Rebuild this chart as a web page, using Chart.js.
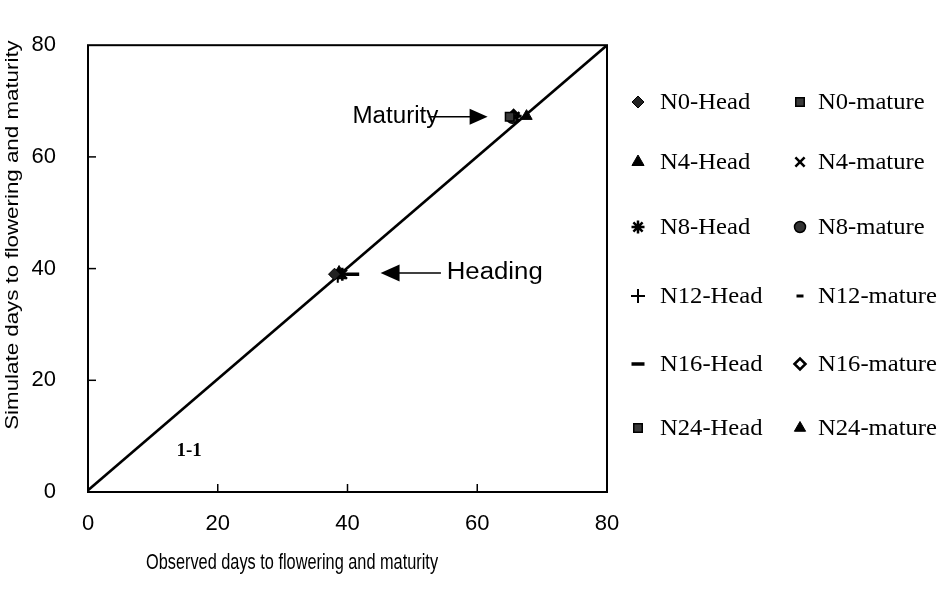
<!DOCTYPE html>
<html><head><meta charset="utf-8">
<script src="https://cdn.jsdelivr.net/npm/chart.js@4.4.0/dist/chart.umd.min.js"></script>
<style>html,body{margin:0;padding:0;background:#fff}</style>
</head><body>
<canvas id="c" width="949" height="611"></canvas>
<script>
// ---- data ----
const seriesLabels = ['N0-Head','N0-mature','N4-Head','N4-mature','N8-Head','N8-mature','N12-Head','N12-mature','N16-Head','N16-mature','N24-Head','N24-mature'];
const observedDays = [38.0, 65.0, 38.7, 65.8, 39.2, 65.4, 38.5, 66.3, 40.8, 65.6, 38.9, 67.6];
const simulatedDays = [39.0, 67.2, 39.3, 67.2, 39.0, 67.0, 38.7, 67.3, 39.0, 67.4, 39.0, 67.3];
const oneToOneX = [0, 80];
const oneToOneY = [0.3, 80];
const axisTicks = [0, 20, 40, 60, 80];
const xTitle = 'Observed days to flowering and maturity';
const yTitle = 'Simulate days to flowering and maturity';
const lineLabel = '1-1';
const maturityText = 'Maturity';
const headingText = 'Heading';

// ---- styles (separate from data) ----
const markerStyles = [
  {ps:'rectRot', r:6, fill:'#222', bw:1},
  {ps:'rect', r:6, fill:'#3a3a3a', bw:1.5},
  {ps:'triangle', r:7, fill:'#000', bw:1},
  {ps:'crossRot', r:6.5, fill:'#000', bw:2.5},
  {ps:'star', r:6.5, fill:'#000', bw:2.5},
  {ps:'circle', r:5.5, fill:'#333', bw:1.5},
  {ps:'cross', r:7, fill:'#000', bw:2},
  {ps:'line', r:3.5, fill:'#000', bw:3},
  {ps:'line', r:6.5, fill:'#000', bw:3.5},
  {ps:'rectRot', r:5.5, fill:'#fff', bw:2.5},
  {ps:'rect', r:6, fill:'#3a3a3a', bw:1.5},
  {ps:'triangle', r:6.5, fill:'#000', bw:1}
];
// annotation anchors in data units
const annot = {
  maturity: {textRight: 54.0, y: 67.2, lineFrom: 52.5, tip: 61.6},
  heading: {tip: 45.1, lineTo: 54.4, textLeft: 55.3, y: 39.2},
  oneToOne: {x: 15.6, y: 7.3}
};

const datasets = [{
  type:'line', label:'1:1',
  data: oneToOneX.map((x,i)=>({x, y:oneToOneY[i]})),
  borderColor:'#000', borderWidth:2.6, pointRadius:0, showLine:true, fill:false, order:2
}];
seriesLabels.forEach((lab,i)=>{
  const s = markerStyles[i];
  datasets.push({
    label: lab,
    data: [{x: observedDays[i], y: simulatedDays[i]}],
    pointStyle: s.ps, pointRadius: s.r, pointBorderWidth: s.bw,
    pointBackgroundColor: s.fill, pointBorderColor:'#000',
    backgroundColor: s.fill, borderColor:'#000', showLine:false, order:1,
    isSeries:true
  });
});

const SANS = '"Liberation Sans", Arial, sans-serif';
const SERIF = '"Liberation Serif", "Times New Roman", serif';

const decor = {
  id:'decor',
  afterDraw(chart){
    const ctx = chart.ctx, a = chart.chartArea, xs = chart.scales.x, ys = chart.scales.y;
    ctx.save();
    // plot box
    ctx.strokeStyle = '#000'; ctx.lineWidth = 2;
    ctx.strokeRect(a.left, a.top, a.right - a.left, a.bottom - a.top);
    // inward ticks
    ctx.lineWidth = 1.5;
    axisTicks.slice(1, -1).forEach(v=>{
      const px = xs.getPixelForValue(v);
      ctx.beginPath(); ctx.moveTo(px, a.bottom); ctx.lineTo(px, a.bottom - 8); ctx.stroke();
      const py = ys.getPixelForValue(v);
      ctx.beginPath(); ctx.moveTo(a.left, py); ctx.lineTo(a.left + 8, py); ctx.stroke();
    });
    // axis titles
    ctx.fillStyle = '#000';
    ctx.textAlign = 'center'; ctx.textBaseline = 'middle';
    ctx.font = '17px ' + SANS;
    ctx.save(); ctx.translate(292, 563); ctx.scale(0.96, 1.25); ctx.fillText(xTitle, 0, 0); ctx.restore();
    ctx.font = '18px ' + SANS;
    ctx.save(); ctx.translate(13, 235); ctx.rotate(-Math.PI/2); ctx.scale(1.24, 1.05); ctx.fillText(yTitle, 0, 0); ctx.restore();
    // 1-1 label
    ctx.font = 'bold 19px ' + SERIF;
    ctx.fillText(lineLabel, xs.getPixelForValue(annot.oneToOne.x), ys.getPixelForValue(annot.oneToOne.y));
    // maturity annotation
    ctx.font = '23px ' + SANS;
    const m = annot.maturity, my = ys.getPixelForValue(m.y);
    ctx.textAlign = 'right';
    ctx.save(); ctx.translate(xs.getPixelForValue(m.textRight), my); ctx.scale(1.05, 1); ctx.fillText(maturityText, 0, 0); ctx.restore();
    const mtip = xs.getPixelForValue(m.tip);
    ctx.lineWidth = 1.5;
    ctx.beginPath(); ctx.moveTo(xs.getPixelForValue(m.lineFrom), my); ctx.lineTo(mtip - 16, my); ctx.stroke();
    ctx.beginPath(); ctx.moveTo(mtip, my); ctx.lineTo(mtip - 18, my - 8); ctx.lineTo(mtip - 18, my + 8); ctx.closePath(); ctx.fill();
    // heading annotation
    const h = annot.heading, hy = ys.getPixelForValue(h.y), htip = xs.getPixelForValue(h.tip);
    ctx.beginPath(); ctx.moveTo(htip, hy); ctx.lineTo(htip + 19, hy - 8.5); ctx.lineTo(htip + 19, hy + 8.5); ctx.closePath(); ctx.fill();
    ctx.beginPath(); ctx.moveTo(htip + 16, hy); ctx.lineTo(xs.getPixelForValue(h.lineTo), hy); ctx.stroke();
    ctx.textAlign = 'left';
    ctx.save(); ctx.translate(xs.getPixelForValue(h.textLeft), hy); ctx.scale(1.12, 1); ctx.fillText(headingText, 0, 0); ctx.restore();
    // legend (two columns)
    const colMarker = [638, 800], colText = [660, 818], rowY = [102, 162, 227, 296, 364, 428];
    const items = chart.data.datasets.filter(d => d.isSeries);
    items.forEach((d, i)=>{
      const col = i % 2, row = Math.floor(i / 2);
      const y = rowY[row];
      ctx.fillStyle = d.pointBackgroundColor; ctx.strokeStyle = '#000';
      ctx.lineWidth = d.pointBorderWidth;
      Chart.helpers.drawPoint(ctx, {pointStyle: d.pointStyle, radius: d.pointRadius, rotation: 0, borderWidth: d.pointBorderWidth}, colMarker[col], y);
      ctx.fillStyle = '#000';
      ctx.font = '23px ' + SERIF; ctx.textAlign = 'left'; ctx.textBaseline = 'middle';
      ctx.save(); ctx.translate(colText[col], y + 1); ctx.scale(1.07, 1.03); ctx.fillText(d.label, 0, 0); ctx.restore();
    });
    ctx.restore();
  }
};

new Chart(document.getElementById('c'), {
  type:'scatter',
  data:{datasets},
  options:{
    responsive:false, animation:false,
    layout:{padding:{top:22, right:342, left:0, bottom:0}},
    plugins:{legend:{display:false}, tooltip:{enabled:false}},
    scales:{
      x:{type:'linear', min:0, max:80,
        afterBuildTicks: s=>{ s.ticks = axisTicks.map(v=>({value:v})); },
        ticks:{padding:19, color:'#000', font:{family:SANS, size:22}},
        grid:{display:false, drawTicks:false}, border:{display:false},
        afterFit: s=>{ s.height = 119; }
      },
      y:{type:'linear', min:0, max:80,
        afterBuildTicks: s=>{ s.ticks = axisTicks.map(v=>({value:v})); },
        ticks:{padding:32, color:'#000', font:{family:SANS, size:22}},
        grid:{display:false, drawTicks:false}, border:{display:false},
        afterFit: s=>{ s.width = 88; }
      }
    }
  },
  plugins:[decor]
});
</script>
</body></html>
